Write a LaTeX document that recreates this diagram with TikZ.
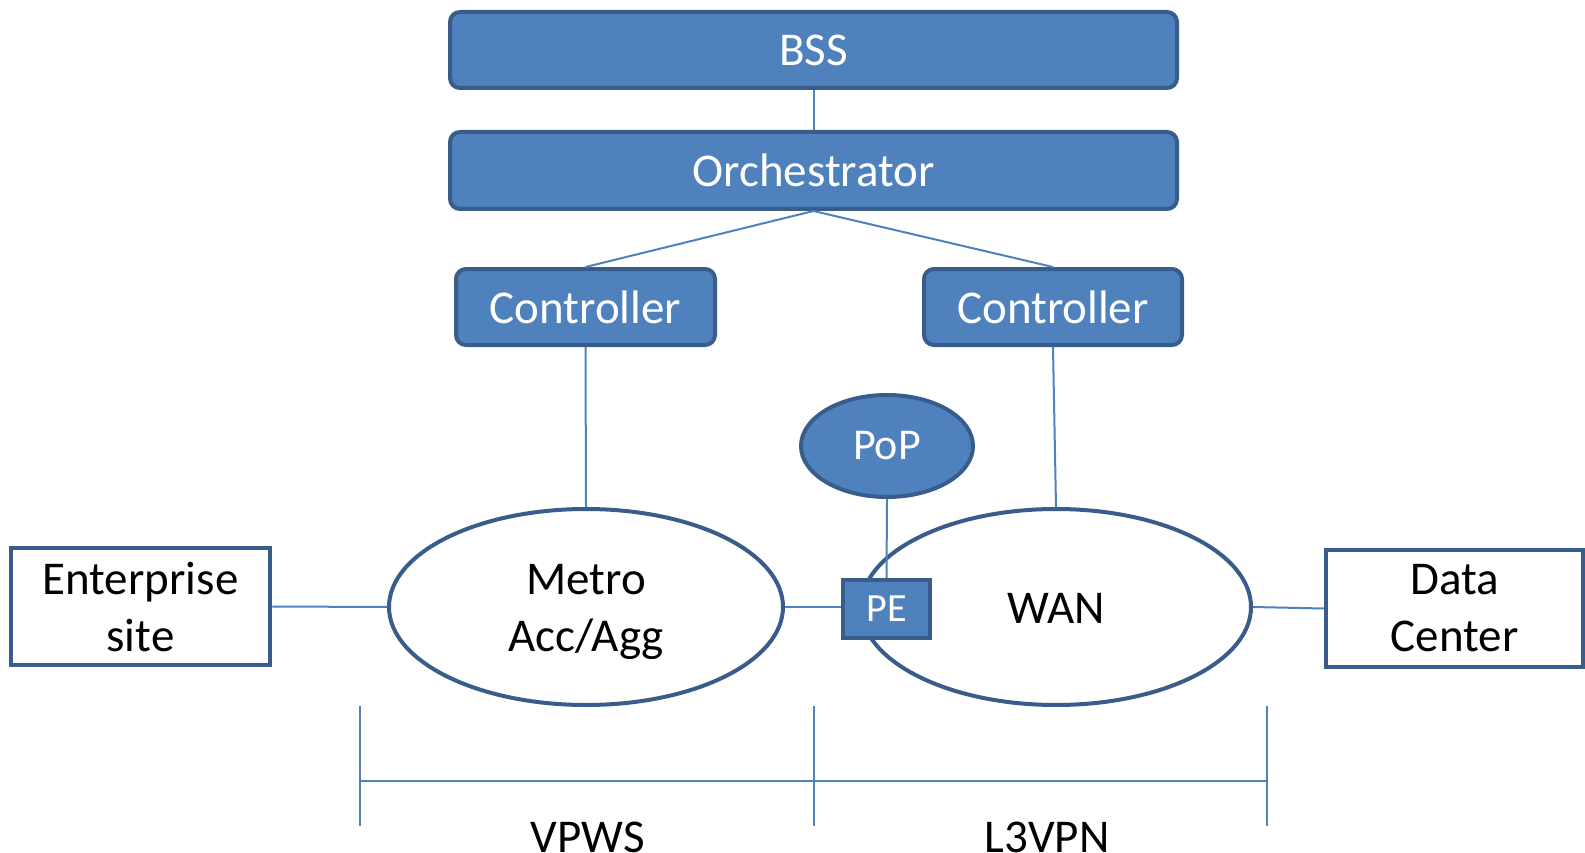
\documentclass[tikz,border=0pt]{standalone}
\usepackage{fontspec}
\setmainfont{Carlito}
\usetikzlibrary{shapes.geometric}
\definecolor{boxfill}{HTML}{4F81BD}
\definecolor{boxedge}{HTML}{385D8A}
\definecolor{wire}{HTML}{4F81BD}
\tikzset{
  bluebox/.style={draw=boxedge, fill=boxfill, line width=4pt, rounded corners=10pt,
    text=white, inner sep=0pt, font=\fontsize{47}{57}\selectfont},
  siteBox/.style={draw=boxedge, fill=white, line width=4.5pt, text=black,
    inner sep=0pt, align=center, font=\fontsize{47}{57}\selectfont},
  cloud/.style={ellipse, draw=boxedge, line width=4pt, fill=white, inner sep=0pt},
  cloudtext/.style={inner sep=0pt, align=center, font=\fontsize{47}{57}\selectfont},
  wireline/.style={draw=wire, line width=2pt},
}
\begin{document}
\begin{tikzpicture}[x=1pt,y=-1pt]
  \useasboundingbox (0,0) rectangle (1585,853);

  % management layer
  \node[bluebox, minimum width=727pt, minimum height=76pt] (bss) at (813.5,50) {BSS};
  \node[bluebox, minimum width=727pt, minimum height=77pt] (orch) at (813.5,170.5) {Orchestrator};
  \node[bluebox, minimum width=259pt, minimum height=76pt] (ctrlL) at (585.5,307) {Controller};
  \node[bluebox, minimum width=258pt, minimum height=76pt] (ctrlR) at (1053,307) {Controller};

  % network domains
  \node[cloud, minimum width=394pt, minimum height=196pt] (metro) at (586,607) {};
  \node[cloudtext] (metrotext) at ([yshift=-5pt]metro.center) {Metro\\Acc/Agg};
  \node[cloud, minimum width=390pt, minimum height=196pt] (wan) at (1056,607) {};
  \node[cloudtext] (wantext) at ([yshift=-1pt]wan.center) {WAN};
  \node[ellipse, draw=boxedge, fill=boxfill, line width=4pt, inner sep=0pt, text=white,
    minimum width=172pt, minimum height=102pt, font=\fontsize{44}{52}\selectfont] (pop) at (887,446) {PoP};
  \node[draw=boxedge, fill=boxfill, line width=4pt, inner sep=0pt, text=white,
    minimum width=87pt, minimum height=58pt, font=\fontsize{40}{48}\selectfont] (pe) at (886.5,609) {PE};

  % end sites
  \node[siteBox, minimum width=259pt, minimum height=117pt] (ent) at (140.5,606.5) {Enterprise\\site};
  \node[siteBox, minimum width=257pt, minimum height=117pt] (dc) at (1454.5,608.5) {Data\\Center};

  % connectors
  \draw[wireline] (bss.south) -- (orch.north);
  \draw[wireline] (orch.south) -- (ctrlL.north);
  \draw[wireline] (orch.south) -- (ctrlR.north);
  \draw[wireline] (ctrlL.south) -- (metro.north);
  \draw[wireline] (ctrlR.south) -- (wan.north);
  \draw[wireline] (pop.south) -- (pe.north);
  \draw[wireline] (metro.east) -- (pe.west |- metro.east);
  \draw[wireline] (ent.east) -- (metro.west);
  \draw[wireline] (wan.east) -- (dc.west);

  % service span markers
  \coordinate (aTop) at (360,706);  \coordinate (aBot) at (360,826);
  \coordinate (bTop) at (814,706);  \coordinate (bBot) at (814,826);
  \coordinate (cTop) at (1267,706); \coordinate (cBot) at (1267,826);
  \coordinate (aMid) at (360,781);  \coordinate (cMid) at (1267,781);
  \draw[wireline] (aTop) -- (aBot);
  \draw[wireline] (bTop) -- (bBot);
  \draw[wireline] (cTop) -- (cBot);
  \draw[wireline] (aMid) -- (cMid);
  \node[anchor=base, inner sep=0pt, font=\fontsize{47}{56}\selectfont] (vpws) at (588,852) {VPWS};
  \node[anchor=base, inner sep=0pt, font=\fontsize{47}{56}\selectfont] (l3vpn) at (1047,852) {L3VPN};
\end{tikzpicture}
\end{document}
